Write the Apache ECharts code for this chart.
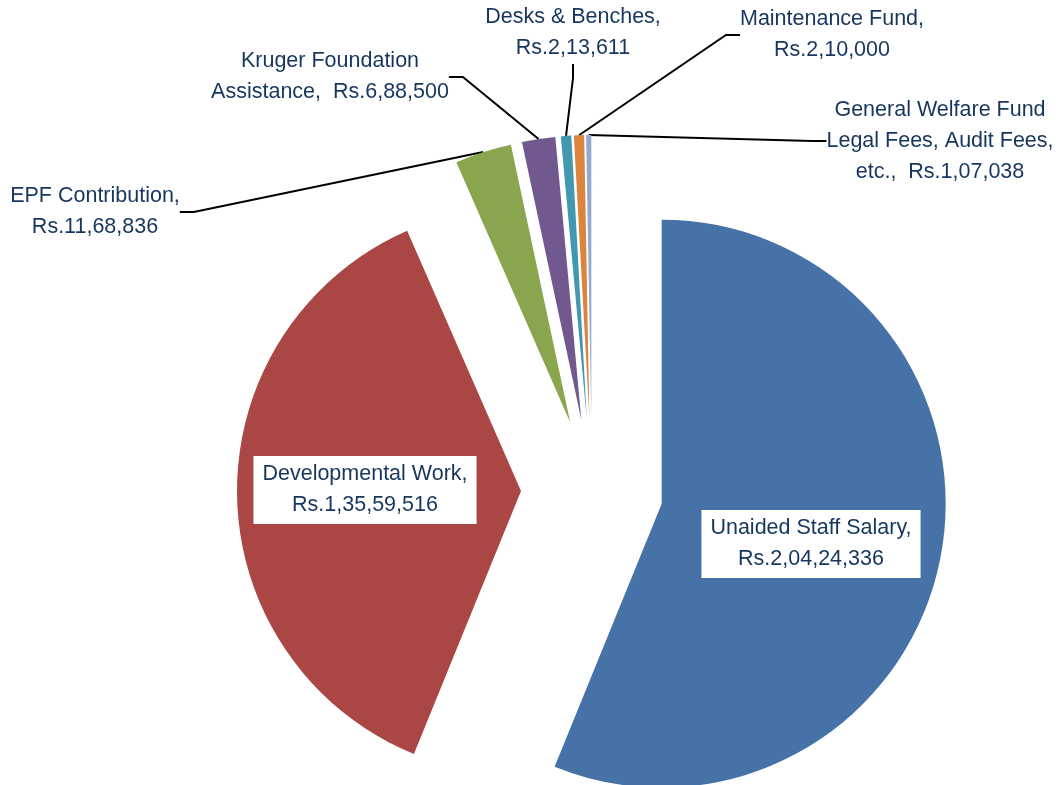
<!DOCTYPE html>
<html>
<head>
<meta charset="utf-8">
<script src="https://cdn.jsdelivr.net/npm/echarts@6/dist/echarts.min.js"></script>
<style>
  html, body { margin: 0; padding: 0; background: #fff; }
  #chart { width: 1058px; height: 785px; }
</style>
</head>
<body>
<div id="chart"></div>
<script>
const categories = [
  'Unaided Staff Salary',
  'Developmental Work',
  'EPF Contribution',
  'Kruger Foundation\nAssistance',
  'Desks & Benches',
  'Maintenance Fund',
  'General Welfare Fund\nLegal Fees, Audit Fees,\netc.'
]
const amounts = [20424336, 13559516, 1168836, 688500, 213611, 210000, 107038]
const colors = ['#4672A8', '#AA4643', '#89A54E', '#71588F', '#4198AF', '#DB843D', '#93A9CF']

// separator between name and amount in each label
const separators = ['\n', '\n', '\n', '  ', '\n', '\n', '  ']

// label centres (px)
const labelPos = [
  [811, 544], [365, 490], [95, 212], [330, 77], [573, 33], [832, 35], [940, 141]
]

function formatIndian(n) {
  const s = String(n)
  if (s.length <= 3) return s
  const last3 = s.slice(-3)
  let rest = s.slice(0, -3)
  const parts = []
  while (rest.length > 2) {
    parts.unshift(rest.slice(-2))
    rest = rest.slice(0, -2)
  }
  if (rest) parts.unshift(rest)
  return parts.join(',') + ',' + last3
}

const chart = echarts.init(document.getElementById('chart'))

const textColor = '#17365D'
const fontFamily = '"Liberation Sans", Arial, sans-serif'
const cx = 592
const cy = 490
const pieRadius = 284
const explode = 71

const total = amounts.reduce((a, b) => a + b, 0)

// one series per slice so each slice can be pulled out along its own mid angle
const series = amounts.map((amount, i) => {
  const before = amounts.slice(0, i).reduce((a, b) => a + b, 0)
  const mid = (before + amount / 2) / total * Math.PI * 2
  const center = [cx + explode * Math.sin(mid), cy - explode * Math.cos(mid)]
  const inside = i < 2

  const data = categories.map((name, j) => {
    if (j !== i) {
      return {
        name,
        value: amounts[j],
        itemStyle: { color: 'rgba(0,0,0,0)' },
        label: { show: false },
        labelLine: { show: false }
      }
    }
    const item = {
      name,
      value: amounts[j],
      itemStyle: { color: colors[j] }
    }
    if (inside) {
      item.label = {
        position: 'inside',
        backgroundColor: '#fff',
        padding: [3, 9, 3, 9]
      }
      item.labelLine = { show: false }
    }
    return item
  })

  return {
    type: 'pie',
    center,
    radius: pieRadius,
    startAngle: 90,
    clockwise: true,
    silent: true,
    avoidLabelOverlap: false,
    emphasis: { disabled: true },
    itemStyle: { borderWidth: 0 },
    label: {
      show: true,
      position: 'outside',
      color: textColor,
      fontFamily: fontFamily,
      fontSize: 21.5,
      lineHeight: 31,
      align: 'center',
      formatter: p => p.name + ',' + separators[p.dataIndex] + 'Rs.' + formatIndian(p.value)
    },
    labelLine: {
      show: true,
      length: 20,
      length2: 14,
      lineStyle: { color: '#000', width: 2 }
    },
    labelLayout: params => {
      const pos = labelPos[params.dataIndex]
      return {
        x: pos[0],
        y: pos[1],
        align: 'center',
        verticalAlign: 'middle'
      }
    },
    data
  }
})

chart.setOption({
  backgroundColor: '#fff',
  animation: false,
  series
})
</script>
</body>
</html>
